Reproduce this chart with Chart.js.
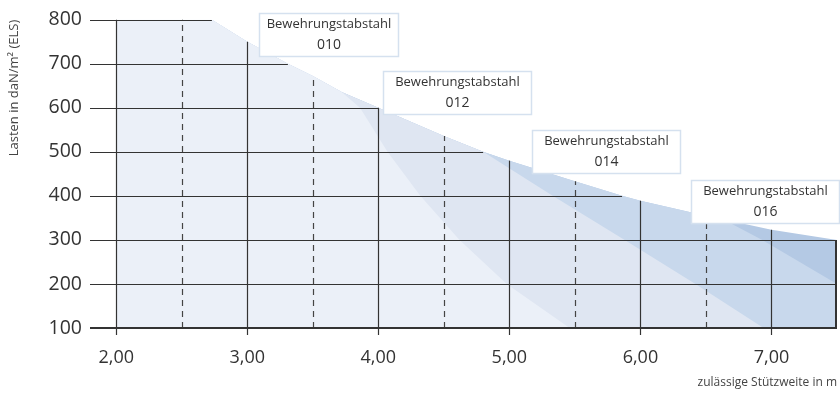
<!DOCTYPE html>
<html>
<head>
<meta charset="utf-8">
<script src="https://cdn.jsdelivr.net/npm/chart.js@4.4.1/dist/chart.umd.min.js"></script>
<style>
  html, body { margin: 0; padding: 0; background: #fff; }
</style>
</head>
<body>
<canvas id="chart" width="840" height="394"></canvas>
<script>
// outer envelope of all bars (span in m -> load in daN/m2)
var envelopeSpan = [2.0, 2.73, 3.0, 3.31, 3.5, 3.72, 4.0, 4.5, 4.8, 5.0, 5.5, 5.86, 6.0, 6.5, 6.63, 7.0, 7.5];
var envelopeLoad = [800, 800, 750, 700, 672, 636, 600, 536, 500, 480, 433, 400, 389, 355, 347, 323, 300];

// each bar follows the envelope up to leaveSpan, then falls along its own edge
var barNames = ['010', '012', '014', '016'];
var leaveSpan = [3.72, 4.8, 6.63, 7.5];
var edgeSpan010 = [3.86, 4.07, 4.32, 4.62, 4.98, 5.46];
var edgeLoad010 = [600, 500, 400, 300, 200, 100];
var edgeSpan012 = [5.33, 5.88, 6.42, 6.94];
var edgeLoad012 = [400, 300, 200, 100];
var edgeSpan014 = [6.93, 7.5];
var edgeLoad014 = [300, 200];
var edgeSpan016 = [];
var edgeLoad016 = [];

var xTicks = [2, 3, 4, 5, 6, 7];
var xTickLabels = ['2,00', '3,00', '4,00', '5,00', '6,00', '7,00'];
var xHalfTicks = [2.5, 3.5, 4.5, 5.5, 6.5];
var yTicks = [100, 200, 300, 400, 500, 600, 700, 800];
var yTickLabels = ['100', '200', '300', '400', '500', '600', '700', '800'];

var barColors = ['#ebf0f8', '#dfe6f2', '#c8d8ec', '#b4c9e4'];
// label box anchors (centre span, top load)
var labelSpots = [[3.62, 816], [4.6, 683], [5.74, 550], [6.95, 435]];

var edges = {
    '010': [edgeSpan010, edgeLoad010],
    '012': [edgeSpan012, edgeLoad012],
    '014': [edgeSpan014, edgeLoad014],
    '016': [edgeSpan016, edgeLoad016]
};

function barPoints(i) {
    var pts = [];
    envelopeSpan.forEach(function (s, k) {
        if (s <= leaveSpan[i]) pts.push({x: s, y: envelopeLoad[k]});
    });
    var e = edges[barNames[i]];
    e[0].forEach(function (s, k) { pts.push({x: s, y: e[1][k]}); });
    return pts;
}

function loadAtSpan(s) {
    for (var i = 1; i < envelopeSpan.length; i++) {
        if (s <= envelopeSpan[i]) {
            var t = (s - envelopeSpan[i - 1]) / (envelopeSpan[i] - envelopeSpan[i - 1]);
            return envelopeLoad[i - 1] + t * (envelopeLoad[i] - envelopeLoad[i - 1]);
        }
    }
    return envelopeLoad[envelopeLoad.length - 1];
}

function spanAtLoad(v) {
    for (var i = envelopeSpan.length - 1; i > 0; i--) {
        if (envelopeLoad[i - 1] >= v) {
            if (envelopeLoad[i] >= v) return envelopeSpan[i];
            var t = (envelopeLoad[i - 1] - v) / (envelopeLoad[i - 1] - envelopeLoad[i]);
            return envelopeSpan[i - 1] + t * (envelopeSpan[i] - envelopeSpan[i - 1]);
        }
    }
    return envelopeSpan[0];
}

var FONT = '"Open Sans", "DejaVu Sans", sans-serif';

// grid drawn only under the envelope
var gridPlugin = {
    id: 'envelopeGrid',
    afterDatasetsDraw: function (chart) {
        var ctx = chart.ctx, area = chart.chartArea;
        var x = chart.scales.x, y = chart.scales.y;
        ctx.save();
        ctx.strokeStyle = '#333';
        ctx.lineWidth = 1.2;
        yTicks.forEach(function (v) {
            if (v === 100) return;
            var py = Math.round(y.getPixelForValue(v)) + 0.5;
            ctx.beginPath();
            ctx.moveTo(area.left, py);
            ctx.lineTo(x.getPixelForValue(spanAtLoad(v)), py);
            ctx.stroke();
        });
        xTicks.forEach(function (s) {
            var px = Math.round(x.getPixelForValue(s)) + 0.5;
            ctx.beginPath();
            ctx.moveTo(px, area.bottom + 7);
            ctx.lineTo(px, y.getPixelForValue(loadAtSpan(s)));
            ctx.stroke();
        });
        // right border
        var rx = area.right - 1;
        ctx.beginPath();
        ctx.moveTo(rx, area.bottom);
        ctx.lineTo(rx, y.getPixelForValue(loadAtSpan(7.5)));
        ctx.lineWidth = 2;
        ctx.stroke();

        ctx.lineWidth = 1.2;
        ctx.strokeStyle = '#444';
        ctx.setLineDash([6, 5]);
        xHalfTicks.forEach(function (s) {
            var px = Math.round(x.getPixelForValue(s)) + 0.5;
            ctx.beginPath();
            ctx.moveTo(px, area.bottom);
            ctx.lineTo(px, y.getPixelForValue(loadAtSpan(s)));
            ctx.stroke();
        });
        ctx.setLineDash([]);

        // base axis at 100
        ctx.strokeStyle = '#333';
        ctx.lineWidth = 2;
        var by = y.getPixelForValue(100);
        ctx.beginPath();
        ctx.moveTo(area.left, by);
        ctx.lineTo(area.right, by);
        ctx.stroke();
        ctx.restore();
    },
    afterDraw: function (chart) {
        var ctx = chart.ctx;
        var x = chart.scales.x, y = chart.scales.y;
        ctx.save();
        ctx.font = '13px ' + FONT;
        ctx.textAlign = 'center';
        ctx.textBaseline = 'middle';
        barNames.forEach(function (name, i) {
            var cx = x.getPixelForValue(labelSpots[i][0]);
            var top = Math.round(y.getPixelForValue(labelSpots[i][1])) + 0.5;
            var w = Math.round(ctx.measureText('Bewehrungstabstahl').width) + 14;
            var h = 43;
            var left = Math.round(cx - w / 2) + 0.5;
            ctx.fillStyle = '#fff';
            ctx.fillRect(left, top, w, h);
            ctx.strokeStyle = '#d5e1ef';
            ctx.lineWidth = 1.5;
            ctx.strokeRect(left, top, w, h);
            ctx.fillStyle = '#333';
            ctx.font = '13px ' + FONT;
            ctx.fillText('Bewehrungstabstahl', left + w / 2, top + 11);
            ctx.font = '14px ' + FONT;
            ctx.fillText(name, left + w / 2, top + 32);
        });
        ctx.restore();
    }
};

var datasets = barNames.map(function (name, i) {
    return {
        label: name,
        data: barPoints(i),
        backgroundColor: barColors[i],
        borderWidth: 0,
        pointRadius: 0,
        tension: 0,
        fill: 'start'
    };
});

new Chart(document.getElementById('chart'), {
    type: 'line',
    data: { datasets: datasets },
    options: {
        responsive: false,
        animation: false,
        layout: { padding: { top: 17, right: 3, left: 0, bottom: 0 } },
        plugins: {
            legend: { display: false },
            tooltip: { enabled: false }
        },
        scales: {
            x: {
                type: 'linear',
                min: 1.8,
                max: 7.5,
                grid: { display: false, drawTicks: false },
                border: { display: false },
                afterBuildTicks: function (s) {
                    s.ticks = xTicks.map(function (v) { return {value: v}; });
                },
                afterFit: function (s) { s.height = 66; },
                ticks: {
                    padding: 19,
                    maxRotation: 0,
                    autoSkip: false,
                    color: '#333',
                    font: { family: FONT, size: 18 },
                    callback: function (v) {
                        var k = xTicks.indexOf(v);
                        return k >= 0 ? xTickLabels[k] : '';
                    }
                },
                title: {
                    display: true,
                    text: 'zulässige Stützweite in m',
                    align: 'end',
                    color: '#444',
                    font: { family: FONT, size: 12 },
                    padding: { top: 0, bottom: 4 }
                }
            },
            y: {
                min: 100,
                max: 800,
                grid: { display: false, drawTicks: false },
                border: { display: false },
                afterBuildTicks: function (s) {
                    s.ticks = yTicks.map(function (v) { return {value: v}; });
                },
                afterFit: function (s) { s.width = 90; },
                ticks: {
                    padding: 8,
                    color: '#333',
                    font: { family: FONT, size: 19.5 },
                    callback: function (v) {
                        var k = yTicks.indexOf(v);
                        return k >= 0 ? yTickLabels[k] : '';
                    }
                },
                title: {
                    display: true,
                    text: 'Lasten in daN/m² (ELS)',
                    align: 'end',
                    color: '#444',
                    font: { family: FONT, size: 13 },
                    padding: { top: 6, bottom: 0 }
                }
            }
        }
    },
    plugins: [gridPlugin]
});
</script>
</body>
</html>
